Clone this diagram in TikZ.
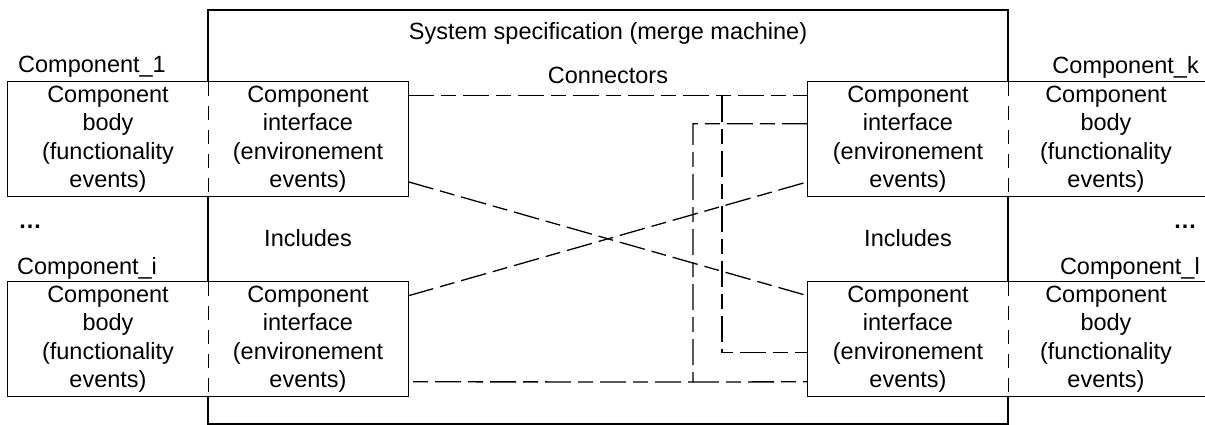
\documentclass[tikz,border=0pt]{standalone}
\usepackage{fontspec}
\setmainfont{Liberation Sans}
\usetikzlibrary{calc}
\begin{document}
\begin{tikzpicture}[x=1pt,y=-1pt,
  font=\fontsize{23.5}{28.5}\selectfont,
  half/.style={minimum width=200pt, minimum height=114pt, align=center,
    inner sep=0pt, fill=white},
  frame/.style={line width=1.3pt},
  divider/.style={line width=1.3pt, dash pattern=on 14pt off 10pt},
  link/.style={line width=1.3pt, dash pattern=on 26pt off 7pt on 15pt off 7pt},
  label/.style={inner sep=0pt}]
\useasboundingbox (0,0) rectangle (1205,425);

% the merge machine that contains all interfaces
\node[frame, draw, minimum width=800pt, minimum height=414pt, inner sep=0pt]
  (sys) at (608,217) {};
\node[label] (title) at (608,33) {System specification (merge machine)};
\node[label] (conn) at (608,75) {Connectors};
\node[label] (incl1) at (308,238) {Includes};
\node[label] (incl2) at (908,238) {Includes};

% left components
\node[half] (body1) at (108,139) {Component\\body\\(functionality\\events)};
\node[half] (iface1) at (308,139) {Component\\interface\\(environement\\events)};
\node[half] (bodyi) at (108,339) {Component\\body\\(functionality\\events)};
\node[half] (ifacei) at (308,339) {Component\\interface\\(environement\\events)};

% right components
\node[half] (ifacek) at (908,139) {Component\\interface\\(environement\\events)};
\node[half] (bodyk) at (1106,139) {Component\\body\\(functionality\\events)};
\node[half] (ifacel) at (908,339) {Component\\interface\\(environement\\events)};
\node[half] (bodyl) at (1106,339) {Component\\body\\(functionality\\events)};

% outlines and dashed splits
\foreach \b/\i in {body1/iface1, bodyi/ifacei} {
  \draw[frame] (\b.north west) rectangle (\i.south east);
  \draw[divider] (\b.north east) -- (\b.south east);
}
\foreach \i/\b in {ifacek/bodyk, ifacel/bodyl} {
  \draw[frame] (\i.north west) rectangle ([xshift=-1pt]\b.south east);
  \draw[divider] (\i.north east) -- (\i.south east);
}

% component names
\node[label, anchor=west] (n1) at (18,67) {Component\_1};
\node[label, anchor=west] (ni) at (17,268) {Component\_i};
\node[label, anchor=east] (nk) at (1199,67) {Component\_k};
\node[label, anchor=east] (nl) at (1200,268) {Component\_l};
\node[label] (dotsl) at (30,227) {\textbf{…}};
\node[label] (dotsr) at (1185,227) {\textbf{…}};

% connector junctions
\coordinate (ja) at (722,96);
\coordinate (jb) at (693,382);

% connectors
\draw[link] ([yshift=-14pt]iface1.north east) -- ([yshift=-14pt]ifacek.north west);
\draw[link] (ja) |- ([yshift=-71pt]ifacel.north west);
\draw[link] ([yshift=-42pt]ifacek.north west) -| (jb)
  -- ([yshift=-100pt]ifacei.north east);
\draw[link] (jb) -- ([yshift=-100pt]ifacel.north west);
\draw[link] ([yshift=-100pt]iface1.north east) -- ([yshift=-14pt]ifacel.north west);
\draw[link] ([yshift=-14pt]ifacei.north east) -- ([yshift=-100pt]ifacek.north west);
\end{tikzpicture}
\end{document}
